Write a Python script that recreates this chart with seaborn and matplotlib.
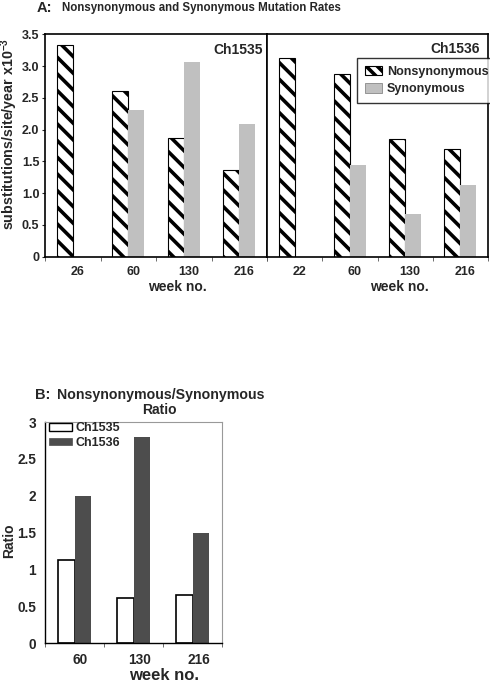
import numpy as np
import pandas as pd
import matplotlib
matplotlib.use("Agg")
import matplotlib.pyplot as plt
import matplotlib.transforms as mtransforms
import seaborn as sns
from matplotlib.patches import Patch

sns.set_style("ticks")
plt.rcParams['font.family'] = ['Liberation Sans', 'DejaVu Sans']
plt.rcParams['font.weight'] = 'bold'
plt.rcParams['axes.labelweight'] = 'bold'
plt.rcParams['mathtext.fontset'] = 'custom'
plt.rcParams['mathtext.bf'] = 'Liberation Sans:bold'
plt.rcParams['mathtext.rm'] = 'Liberation Sans:bold'
plt.rcParams['mathtext.default'] = 'bf'
plt.rcParams['hatch.linewidth'] = 2.6

# ---- data ----
weeks_1535 = ["26", "60", "130", "216"]
nonsyn_1535 = [3.33, 2.60, 1.87, 1.36]
syn_1535 = [np.nan, 2.31, 3.07, 2.09]

weeks_1536 = ["22", "60", "130", "216"]
nonsyn_1536 = [3.13, 2.88, 1.85, 1.69]
syn_1536 = [np.nan, 1.44, 0.67, 1.13]

ratio_weeks = ["60", "130", "216"]
ratio_1535 = [1.13, 0.61, 0.65]
ratio_1536 = [2.00, 2.80, 1.50]

types = ["Nonsynonymous", "Synonymous"]
chimps = ["Ch1535", "Ch1536"]

W, H = 490, 682
fig = plt.figure(figsize=(W / 100, H / 100), dpi=100)

def ax_rect(l, t, r, b):
    return [l / W, 1 - b / H, (r - l) / W, (b - t) / H]

def ftext(x, y, s, **kw):
    return fig.text(x / W, 1 - y / H, s, **kw)

axA1 = fig.add_axes(ax_rect(45, 34.3, 267, 256.7))
axA2 = fig.add_axes(ax_rect(267, 34.3, 488, 256.7))
axB = fig.add_axes(ax_rect(45, 422, 222, 643.3))

gray_syn = "#c0c0c0"
dark = "#4d4d4d"
shift = mtransforms.ScaledTranslation(5 / 100, 0, fig.dpi_scale_trans)

def rate_panel(ax, weeks, nons, syns, show_y):
    df = pd.DataFrame({
        "week": weeks * 2,
        "type": [types[0]] * len(weeks) + [types[1]] * len(weeks),
        "rate": list(nons) + list(syns),
    })
    sns.barplot(data=df, x="week", y="rate", hue="type", order=weeks,
                hue_order=types, palette=["white", gray_syn], width=0.58,
                errorbar=None, ax=ax, legend=False, linewidth=0)
    for bar in ax.containers[0]:
        bar.set_hatch("\\\\")
        bar.set_edgecolor("black")
        bar.set_linewidth(0.8)
    ax.set_ylim(0, 3.5)
    ax.set_xlim(-0.5, len(weeks) - 0.5)
    ax.set_yticks(np.arange(0, 3.51, 0.5))
    ax.set_xlabel("")
    ax.set_ylabel("")
    ax.tick_params(axis="x", length=0, labelsize=9, pad=7)
    ax.set_xticks(np.arange(-0.5, len(weeks) + 0.4, 1), minor=True)
    ax.tick_params(axis="x", which="minor", length=3, width=0.6, color="#555555")
    for lab in ax.get_xticklabels():
        lab.set_transform(lab.get_transform() + shift)
    for s in ax.spines.values():
        s.set_visible(True)
        s.set_color("black")
        s.set_linewidth(1.2)
    if show_y:
        ax.set_yticklabels(["0"] + [f"{v:.1f}" for v in np.arange(0.5, 3.51, 0.5)])
        ax.tick_params(axis="y", length=2.5, labelsize=9, pad=1.5)
    else:
        ax.set_yticklabels([])
        ax.tick_params(axis="y", length=0)
    for lab in ax.get_xticklabels() + ax.get_yticklabels():
        lab.set_fontweight("bold")

rate_panel(axA1, weeks_1535, nonsyn_1535, syn_1535, True)
rate_panel(axA2, weeks_1536, nonsyn_1536, syn_1536, False)

ftext(213, 50, "Ch1535", fontsize=10, fontweight="bold", va="center", ha="left")
ftext(430, 49, "Ch1536", fontsize=10, fontweight="bold", va="center", ha="left")
ftext(177, 287, "week no.", fontsize=10, fontweight="bold", va="center", ha="center")
ftext(399, 287, "week no.", fontsize=10, fontweight="bold", va="center", ha="center")
ftext(9.5, 134, "substitutions/site/year x10$^{-3}$", fontsize=10.3, fontweight="bold",
      va="center", ha="center", rotation=90)

handles = [Patch(facecolor="white", edgecolor="black", hatch="\\\\\\", linewidth=0.8),
           Patch(facecolor=gray_syn, edgecolor="#888888", linewidth=0.6)]
leg = fig.legend(handles, types, loc="upper left",
                 bbox_to_anchor=(357 / W, 1 - 58 / H), bbox_transform=fig.transFigure,
                 fancybox=False, frameon=True, edgecolor="black", fontsize=9.0,
                 handlelength=1.4, handleheight=0.8, borderpad=0.6, labelspacing=0.45,
                 handletextpad=0.4, borderaxespad=0)
leg.get_frame().set_linewidth(1.0)
for t in leg.get_texts():
    t.set_fontweight("bold")

ftext(37, 7.5, "A:", fontsize=10.5, fontweight="bold", va="center", ha="left")
ftext(62, 7.5, "Nonsynonymous and Synonymous Mutation Rates", fontsize=8.3,
      fontweight="bold", va="center", ha="left")

# ---- panel B ----
dfb = pd.DataFrame({
    "week": ratio_weeks * 2,
    "chimp": [chimps[0]] * 3 + [chimps[1]] * 3,
    "ratio": ratio_1535 + ratio_1536,
})
sns.barplot(data=dfb, x="week", y="ratio", hue="chimp", order=ratio_weeks,
            hue_order=chimps, palette=["white", dark], width=0.57,
            errorbar=None, ax=axB, linewidth=0, legend=False)
for bar in axB.containers[0]:
    bar.set_edgecolor("black")
    bar.set_linewidth(1.2)
axB.set_ylim(0, 3)
axB.set_xlim(-0.5, 2.5)
axB.set_yticks([0, 0.5, 1, 1.5, 2, 2.5, 3])
axB.set_yticklabels(["0", "0.5", "1", "1.5", "2", "2.5", "3"])
axB.set_xlabel("")
axB.set_ylabel("")
axB.tick_params(axis="x", length=0, labelsize=9.8, pad=7)
axB.set_xticks(np.arange(-0.5, 2.6, 1), minor=True)
axB.tick_params(axis="x", which="minor", length=3, width=0.6, color="#555555")
axB.tick_params(axis="y", length=0, labelsize=9.8, pad=6.5)
shiftB = mtransforms.ScaledTranslation(6 / 100, 0, fig.dpi_scale_trans)
for lab in axB.get_xticklabels():
    lab.set_transform(lab.get_transform() + shiftB)
for lab in axB.get_xticklabels() + axB.get_yticklabels():
    lab.set_fontweight("bold")
for k, s in axB.spines.items():
    s.set_visible(True)
    if k in ("top", "right"):
        s.set_color("#999999")
        s.set_linewidth(0.8)
    else:
        s.set_color("black")
        s.set_linewidth(1.0)

handlesB = [Patch(facecolor="white", edgecolor="black", linewidth=1.0),
            Patch(facecolor=dark, edgecolor=dark, linewidth=0.5)]
legB = fig.legend(handlesB, chimps, loc="upper left",
                  bbox_to_anchor=(48 / W, 1 - 421 / H), bbox_transform=fig.transFigure,
                  frameon=False, fontsize=9, handlelength=1.85, handleheight=0.55,
                  labelspacing=0.2, handletextpad=0.25, borderpad=0.1, borderaxespad=0)
for t in legB.get_texts():
    t.set_fontweight("bold")

ftext(35, 395, "B:", fontsize=10.5, fontweight="bold", va="center", ha="left")
ftext(57, 395, "Nonsynonymous/Synonymous", fontsize=10.2, fontweight="bold",
      va="center", ha="left")
ftext(159, 410, "Ratio", fontsize=10, fontweight="bold", va="center", ha="center")
ftext(9.5, 541, "Ratio", fontsize=10, fontweight="bold", va="center", ha="center",
      rotation=90)
ftext(164, 675, "week no.", fontsize=12, fontweight="bold", va="center", ha="center")

fig.savefig("out.png", dpi=100)
